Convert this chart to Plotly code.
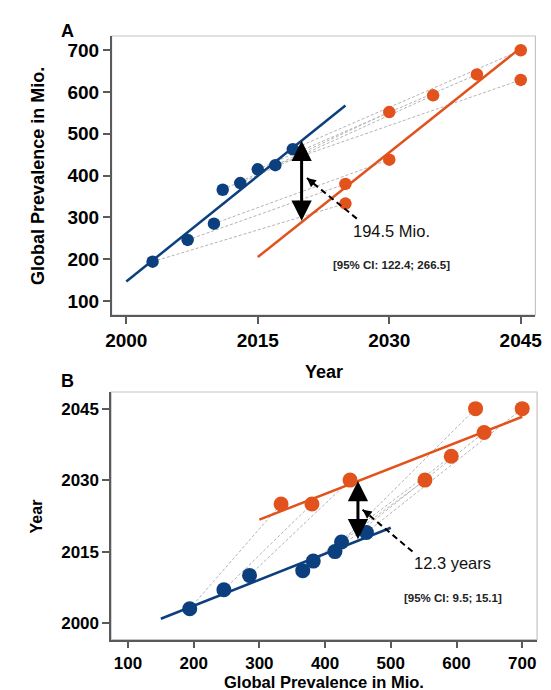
import plotly.graph_objects as go
import numpy as np

# ---------------- data ----------------
obs_years = [2003, 2007, 2010, 2011, 2013, 2015, 2017, 2019]
obs_prev = [194, 246, 285, 366, 382, 415, 425, 463]
proj_years = [2025, 2025, 2030, 2030, 2035, 2040, 2045, 2045]
proj_prev = [333, 380, 438, 552, 592, 642, 629, 700]

# fitted lines
fitA_obs_x = [2000, 2025]
fitA_obs_y = [146.5, 567.6]
fitA_proj_x = [2015, 2044.6]
fitA_proj_y = [205, 699]
fitB_obs_x = [150, 500]
fitB_obs_y = [2000.9, 2020.0]
fitB_proj_x = [300, 700]
fitB_proj_y = [2021.7, 2043.3]

gapA_label = "194.5 Mio."
gapA_ci = "[95% CI: 122.4; 266.5]"
gapB_label = "12.3 years"
gapB_ci = "[95% CI: 9.5; 15.1]"

year_ticks = [2000, 2015, 2030, 2045]
prev_ticks = [100, 200, 300, 400, 500, 600, 700]

# ---------------- styles ----------------
BLUE = "#0c3f7e"
ORANGE = "#e1521c"
GREY = "#b3b3b3"
FONT = "Arial, Liberation Sans, sans-serif"
W, H = 551, 690


def px(x):
    return x / W


def py(y):
    return 1 - y / H


def connectors(x0s, y0s, x1s, y1s):
    cx, cy = [], []
    for a, b, c, d in zip(x0s, y0s, x1s, y1s):
        cx += [a, c, None]
        cy += [b, d, None]
    return cx, cy


def interp(xs, ys, x):
    return float(np.interp(x, xs, ys))


fig = go.Figure()

# ---- Panel A ----
cx, cy = connectors(obs_years, obs_prev, proj_years, proj_prev)
fig.add_trace(go.Scatter(x=cx, y=cy, mode="lines", xaxis="x", yaxis="y",
                         line=dict(color=GREY, width=1, dash="3px,2px"),
                         hoverinfo="skip", showlegend=False))
fig.add_trace(go.Scatter(x=fitA_obs_x, y=fitA_obs_y, mode="lines", xaxis="x", yaxis="y",
                         line=dict(color=BLUE, width=2.5), showlegend=False))
fig.add_trace(go.Scatter(x=fitA_proj_x, y=fitA_proj_y, mode="lines", xaxis="x", yaxis="y",
                         line=dict(color=ORANGE, width=2.5), showlegend=False))
fig.add_trace(go.Scatter(x=obs_years, y=obs_prev, mode="markers", xaxis="x", yaxis="y",
                         marker=dict(color=BLUE, size=12.5), showlegend=False))
fig.add_trace(go.Scatter(x=proj_years, y=proj_prev, mode="markers", xaxis="x", yaxis="y",
                         marker=dict(color=ORANGE, size=12.5), showlegend=False))

# ---- Panel B ----
cx, cy = connectors(obs_prev, obs_years, proj_prev, proj_years)
fig.add_trace(go.Scatter(x=cx, y=cy, mode="lines", xaxis="x2", yaxis="y2",
                         line=dict(color=GREY, width=1, dash="3px,2px"),
                         hoverinfo="skip", showlegend=False))
fig.add_trace(go.Scatter(x=fitB_obs_x, y=fitB_obs_y, mode="lines", xaxis="x2", yaxis="y2",
                         line=dict(color=BLUE, width=2.5), showlegend=False))
fig.add_trace(go.Scatter(x=fitB_proj_x, y=fitB_proj_y, mode="lines", xaxis="x2", yaxis="y2",
                         line=dict(color=ORANGE, width=2.5), showlegend=False))
fig.add_trace(go.Scatter(x=obs_prev, y=obs_years, mode="markers", xaxis="x2", yaxis="y2",
                         marker=dict(color=BLUE, size=15), showlegend=False))
fig.add_trace(go.Scatter(x=proj_prev, y=proj_years, mode="markers", xaxis="x2", yaxis="y2",
                         marker=dict(color=ORANGE, size=15), showlegend=False))

axis_common = dict(showline=True, linecolor="#5a5a5a", linewidth=1.5, mirror=False,
                   ticks="outside", ticklen=7, tickwidth=1.5, tickcolor="#5a5a5a",
                   showgrid=False, zeroline=False)

fig.update_layout(
    width=W, height=H, autosize=False,
    margin=dict(l=0, r=0, t=0, b=0),
    paper_bgcolor="white", plot_bgcolor="white",
    font=dict(family=FONT, color="black"),
    xaxis=dict(domain=[px(100), px(534)], range=[1998.33, 2046.67], tickvals=year_ticks,
               tickfont=dict(size=19, weight="bold", family=FONT), anchor="y", **axis_common),
    yaxis=dict(domain=[py(307), py(28)], range=[66.4, 734], tickvals=prev_ticks,
               tickfont=dict(size=19, weight="bold", family=FONT), anchor="x", **axis_common),
    xaxis2=dict(domain=[px(99.5), px(535.7)], range=[74.4, 722.6], tickvals=prev_ticks,
                tickfont=dict(size=17, weight="bold", family=FONT), anchor="y2", **axis_common),
    yaxis2=dict(domain=[py(631.7), py(384)], range=[1996.5, 2048.5], tickvals=year_ticks,
                tickfont=dict(size=17, weight="bold", family=FONT), anchor="x2", **axis_common),
)

# light frame (top/right)
for xr, yr in (("x domain", "y domain"), ("x2 domain", "y2 domain")):
    fig.add_shape(type="rect", xref=xr, yref=yr, x0=0, x1=1, y0=0, y1=1,
                  line=dict(color="#c4c4c4", width=1.2), layer="below")

# ---- gap arrows ----
gA = 2020
fig.add_annotation(x=gA, y=interp(fitA_obs_x, fitA_obs_y, gA),
                   ax=gA, ay=interp(fitA_proj_x, fitA_proj_y, gA),
                   xref="x", yref="y", axref="x", ayref="y", text="",
                   showarrow=True, arrowhead=2, startarrowhead=2, arrowside="end+start",
                   arrowwidth=3, arrowsize=1.35, startarrowsize=1.35, arrowcolor="black")
gB = 450
fig.add_annotation(x=gB, y=interp(fitB_proj_x, fitB_proj_y, gB),
                   ax=gB, ay=interp(fitB_obs_x, fitB_obs_y, gB),
                   xref="x2", yref="y2", axref="x2", ayref="y2", text="",
                   showarrow=True, arrowhead=2, startarrowhead=2, arrowside="end+start",
                   arrowwidth=3, arrowsize=1.35, startarrowsize=1.35, arrowcolor="black")

# ---- dashed pointer arrows ----
def pointer(xref, yref, tail, head, pix):
    fig.add_shape(type="line", xref=xref, yref=yref, x0=tail[0], y0=tail[1],
                  x1=head[0], y1=head[1], line=dict(color="black", width=2, dash="6px,4px"))
    fig.add_annotation(x=head[0], y=head[1], xref=xref, yref=yref, text="",
                       showarrow=True, ax=pix[0], ay=pix[1], arrowhead=2,
                       arrowwidth=2, arrowsize=0.9, arrowcolor="black")

pointer("x", "y", (2026.3, 297), (2020.6, 394), (8, 6.5))
pointer("x2", "y2", (533, 2015.0), (457, 2023.8), (8, 6))

# ---- texts ----
fig.add_annotation(x=2030.2, y=268, xref="x", yref="y", text=gapA_label, showarrow=False,
                   font=dict(size=16.5, color="#111", family=FONT))
fig.add_annotation(x=2030.2, y=186, xref="x", yref="y", text=gapA_ci, showarrow=False,
                   font=dict(size=11.5, color="#222", family=FONT, weight="bold"))
fig.add_annotation(x=594, y=2012.6, xref="x2", yref="y2", text=gapB_label, showarrow=False,
                   font=dict(size=16.5, color="#111", family=FONT))
fig.add_annotation(x=594, y=2005.25, xref="x2", yref="y2", text=gapB_ci, showarrow=False,
                   font=dict(size=11.5, color="#222", family=FONT, weight="bold"))

def label(text, x, y, size, angle=0):
    fig.add_annotation(x=px(x), y=py(y), xref="paper", yref="paper", text=text,
                       showarrow=False, textangle=angle, xanchor="center", yanchor="middle",
                       font=dict(size=size, family=FONT, weight="bold", color="black"))

label("A", 55, 23, 18)
label("B", 55, 373, 18)
label("Global Prevalence in Mio.", 25, 167.5, 18, -90)
label("Year", 317, 364, 18)
label("Year", 23, 508, 16, -90)
label("Global Prevalence in Mio.", 317, 674, 16.5)

fig.write_html("out.html")
